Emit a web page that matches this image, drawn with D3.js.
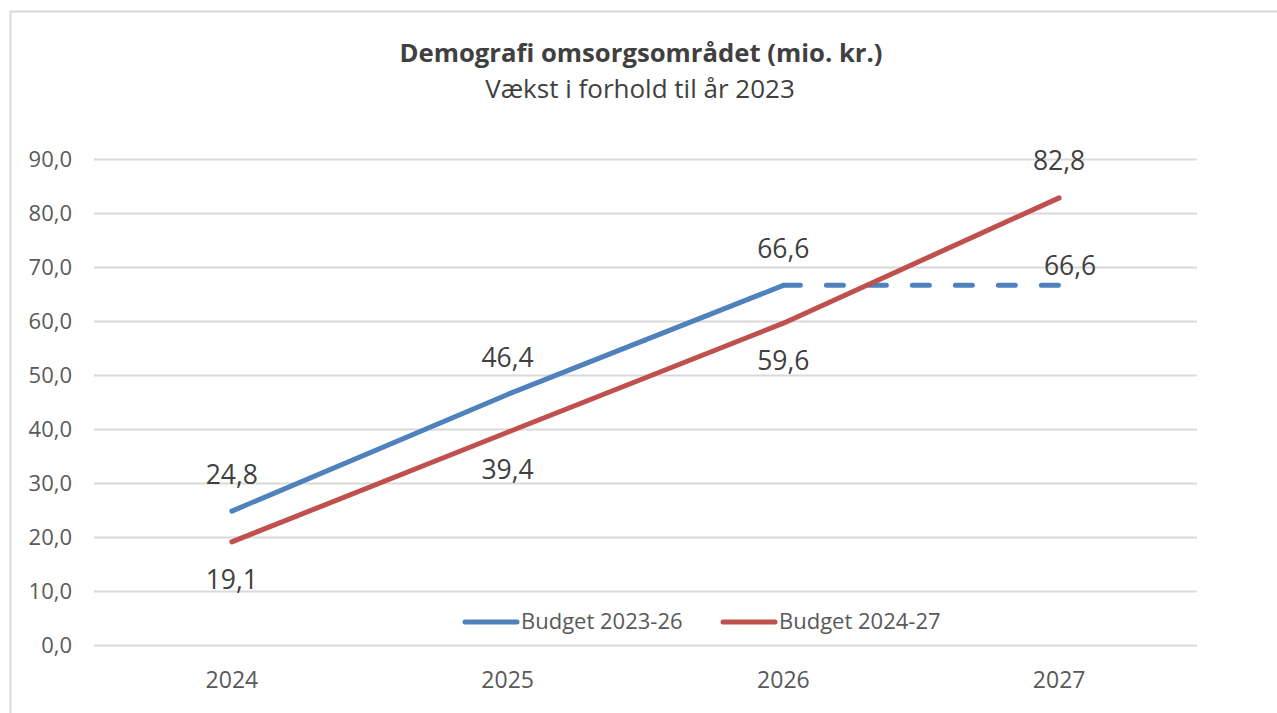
<!DOCTYPE html>
<html>
<head>
<meta charset="utf-8">
<script src="https://cdn.jsdelivr.net/npm/d3@7"></script>
<style>
  body { margin: 0; background: #fff; }
  svg { font-family: 'Open Sans', sans-serif; }
</style>
</head>
<body>
<div id="chart"></div>
<script>
const years = ['2024', '2025', '2026', '2027'];
const budget2326 = [24.8, 46.4, 66.6, null];
const budget2326Extended = [null, null, 66.6, 66.6];
const budget2427 = [19.1, 39.4, 59.6, 82.8];
const yTicks = [0, 10, 20, 30, 40, 50, 60, 70, 80, 90];
const seriesNames = ['Budget 2023-26', 'Budget 2024-27'];

const width = 1277, height = 713;
const blue = '#4f81bd', red = '#c0504d';

const svg = d3.select('#chart')
  .append('svg')
  .attr('width', width)
  .attr('height', height);

// outer chart frame (runs off right/bottom edge)
svg.append('rect')
  .attr('x', 10.5).attr('y', 11.5)
  .attr('width', width + 20).attr('height', height + 20)
  .attr('fill', 'none')
  .attr('stroke', '#d9d9d9')
  .attr('stroke-width', 2);

svg.append('text')
  .attr('x', 641).attr('y', 62)
  .attr('text-anchor', 'middle')
  .attr('font-weight', 'bold')
  .attr('font-size', 25.7)
  .attr('fill', '#404040')
  .text('Demografi omsorgsområdet (mio. kr.)');

svg.append('text')
  .attr('x', 640).attr('y', 98)
  .attr('text-anchor', 'middle')
  .attr('font-size', 26)
  .attr('fill', '#404040')
  .text('Vækst i forhold til år 2023');

const x = d3.scaleBand().domain(years).range([94, 1197]);
const y = d3.scaleLinear().domain([0, 90]).range([645, 159]);
const cx = d => x(d) + x.bandwidth() / 2;
const fmt = v => d3.format('.1f')(v).replace('.', ',');

// gridlines
svg.append('g')
  .attr('transform', 'translate(94,0)')
  .call(d3.axisLeft(y).tickValues(yTicks).tickSize(-1103).tickFormat(fmt))
  .call(g => g.select('.domain').remove())
  .call(g => g.selectAll('.tick line').attr('stroke', '#d9d9d9').attr('stroke-width', 2))
  .call(g => g.selectAll('.tick text')
    .attr('x', -22)
    .attr('font-size', 22)
    .attr('font-family', 'Open Sans')
    .attr('fill', '#595959'));

svg.append('g')
  .attr('transform', 'translate(0,645)')
  .call(d3.axisBottom(x).tickSize(0))
  .call(g => g.select('.domain').remove())
  .call(g => g.selectAll('.tick text')
    .attr('dy', 0)
    .attr('y', 43)
    .attr('font-size', 23)
    .attr('font-family', 'Open Sans')
    .attr('fill', '#595959'));

const line = d3.line()
  .defined(d => d.v != null)
  .x(d => cx(d.year))
  .y(d => y(d.v));

const toPts = arr => years.map((year, i) => ({ year, v: arr[i] }));

svg.append('path')
  .datum(toPts(budget2326Extended))
  .attr('fill', 'none')
  .attr('stroke', blue)
  .attr('stroke-width', 5)
  .attr('stroke-linecap', 'round')
  .attr('stroke-dasharray', '17,26')
  .attr('d', line);

svg.append('path')
  .datum(toPts(budget2326))
  .attr('fill', 'none')
  .attr('stroke', blue)
  .attr('stroke-width', 5)
  .attr('stroke-linecap', 'round')
  .attr('stroke-linejoin', 'round')
  .attr('d', line);

svg.append('path')
  .datum(toPts(budget2427))
  .attr('fill', 'none')
  .attr('stroke', red)
  .attr('stroke-width', 5)
  .attr('stroke-linecap', 'round')
  .attr('stroke-linejoin', 'round')
  .attr('d', line);

// data labels
const labels = svg.append('g')
  .attr('font-size', 26.5)
  .attr('fill', '#404040')
  .attr('text-anchor', 'middle');

toPts(budget2326).filter(d => d.v != null).forEach(d => {
  labels.append('text').attr('x', cx(d.year)).attr('y', y(d.v) - 27).text(fmt(d.v));
});
toPts(budget2427).forEach((d, i) => {
  const above = i === years.length - 1;
  labels.append('text').attr('x', cx(d.year)).attr('y', y(d.v) + (above ? -28 : 47)).text(fmt(d.v));
});
{
  const last = years.length - 1;
  labels.append('text')
    .attr('x', cx(years[last]) + 11)
    .attr('y', y(budget2326Extended[last]) - 10)
    .text(fmt(budget2326Extended[last]));
}

// legend
const legend = svg.append('g').attr('font-size', 22).attr('fill', '#595959');
const legendX = [465, 723];
[blue, red].forEach((c, i) => {
  legend.append('line')
    .attr('x1', legendX[i]).attr('x2', legendX[i] + 52)
    .attr('y1', 622).attr('y2', 622)
    .attr('stroke', c).attr('stroke-width', 5).attr('stroke-linecap', 'round');
  legend.append('text')
    .attr('x', legendX[i] + 56).attr('y', 629)
    .text(seriesNames[i]);
});
</script>
</body>
</html>
